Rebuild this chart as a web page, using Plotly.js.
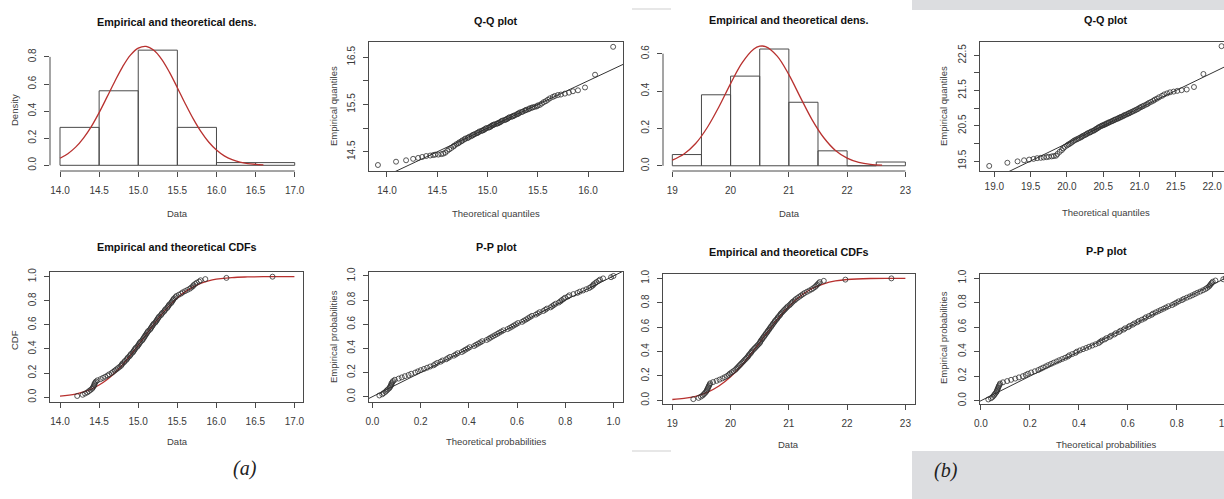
<!DOCTYPE html>
<html><head><meta charset="utf-8">
<script src="https://cdn.plot.ly/plotly-3.0.1.min.js"></script>
<style>html,body{margin:0;padding:0;overflow:hidden;background:#fff;width:1224px;height:499px}#chart{width:1250px;height:499px}</style>
</head><body><div id="chart"></div><script>
// ---------- data ----------
// (a) histogram
const breaksA = [14.0, 14.5, 15.0, 15.5, 16.0, 16.5, 17.0];
const densA = [0.28, 0.55, 0.85, 0.28, 0.02, 0.02];
// (a) theoretical density curve
const curveXA = [14.0,14.1,14.2,14.3,14.4,14.5,14.6,14.7,14.8,14.9,15.0,15.1,15.2,15.3,15.4,15.5,15.6,15.7,15.8,15.9,16.0,16.1,16.2,16.3,16.4,16.5,16.6];
const curveYA = [0.052,0.086,0.134,0.201,0.286,0.389,0.503,0.619,0.727,0.813,0.865,0.878,0.849,0.782,0.686,0.573,0.456,0.346,0.250,0.172,0.113,0.070,0.042,0.024,0.013,0.007,0.003];
// (a) theoretical CDF curve
const cdfXA = [14.0,14.2,14.4,14.5,14.6,14.7,14.8,14.9,15.0,15.1,15.2,15.3,15.4,15.5,15.6,15.7,15.8,15.9,16.0,16.2,16.4,16.6,17.0];
const cdfYA = [0.009,0.026,0.067,0.101,0.145,0.201,0.269,0.346,0.430,0.518,0.604,0.686,0.760,0.823,0.874,0.914,0.944,0.965,0.979,0.993,0.998,1.000,1.000];
// (a) sorted observations
const dataA = [14.22,14.29,14.32,14.35,14.37,14.39,14.41,14.42,14.43,14.44,
  14.44,14.45,14.46,14.48,14.52,14.55,14.58,14.61,14.63,14.66,
  14.68,14.70,14.72,14.74,14.76,14.78,14.79,14.80,14.82,14.83,
  14.85,14.86,14.87,14.89,14.90,14.91,14.93,14.94,14.95,14.96,
  14.97,14.99,15.00,15.01,15.02,15.03,15.05,15.06,15.07,15.08,
  15.09,15.10,15.11,15.12,15.13,15.15,15.16,15.17,15.18,15.19,
  15.20,15.22,15.23,15.24,15.25,15.26,15.27,15.29,15.30,15.31,
  15.33,15.34,15.35,15.37,15.38,15.39,15.40,15.42,15.43,15.44,
  15.45,15.46,15.48,15.49,15.52,15.55,15.57,15.60,15.63,15.66,
  15.68,15.70,15.71,15.73,15.75,15.78,15.80,15.86,16.13,16.72];
// (a) theoretical quantiles (Q-Q x)
const qqTheoA = [13.91,14.09,14.19,14.26,14.31,14.35,14.39,14.43,14.46,14.48,
  14.51,14.54,14.56,14.58,14.60,14.62,14.64,14.66,14.67,14.69,
  14.71,14.72,14.74,14.75,14.77,14.78,14.80,14.81,14.82,14.84,
  14.85,14.86,14.87,14.89,14.90,14.91,14.92,14.94,14.95,14.96,
  14.97,14.98,14.99,15.01,15.02,15.03,15.04,15.05,15.06,15.07,
  15.09,15.10,15.11,15.12,15.13,15.14,15.15,15.17,15.18,15.19,
  15.20,15.21,15.22,15.24,15.25,15.26,15.27,15.29,15.30,15.31,
  15.32,15.34,15.35,15.37,15.38,15.39,15.41,15.42,15.44,15.45,
  15.47,15.49,15.50,15.52,15.54,15.56,15.58,15.60,15.62,15.65,
  15.67,15.70,15.73,15.77,15.81,15.85,15.90,15.97,16.07,16.25];
// (a) theoretical probabilities (P-P x)
const ppTheoA = [0.029,0.041,0.047,0.054,0.059,0.064,0.070,0.073,0.076,0.079,
  0.079,0.083,0.086,0.093,0.109,0.122,0.135,0.150,0.161,0.178,
  0.189,0.201,0.214,0.227,0.240,0.254,0.261,0.269,0.283,0.291,
  0.306,0.314,0.322,0.338,0.346,0.354,0.371,0.379,0.387,0.396,
  0.404,0.422,0.430,0.439,0.448,0.456,0.474,0.483,0.491,0.500,
  0.509,0.518,0.526,0.535,0.544,0.561,0.570,0.579,0.587,0.596,
  0.604,0.621,0.629,0.638,0.646,0.654,0.662,0.678,0.686,0.694,
  0.709,0.717,0.724,0.739,0.746,0.753,0.760,0.773,0.780,0.786,
  0.793,0.799,0.811,0.817,0.834,0.850,0.860,0.874,0.887,0.899,
  0.907,0.914,0.917,0.924,0.930,0.938,0.944,0.957,0.990,1.000];
// empirical probabilities (ECDF / P-P y), both samples
const empProb = [0.01,0.02,0.03,0.04,0.05,0.06,0.07,0.08,0.09,0.10,
  0.11,0.12,0.13,0.14,0.15,0.16,0.17,0.18,0.19,0.20,
  0.21,0.22,0.23,0.24,0.25,0.26,0.27,0.28,0.29,0.30,
  0.31,0.32,0.33,0.34,0.35,0.36,0.37,0.38,0.39,0.40,
  0.41,0.42,0.43,0.44,0.45,0.46,0.47,0.48,0.49,0.50,
  0.51,0.52,0.53,0.54,0.55,0.56,0.57,0.58,0.59,0.60,
  0.61,0.62,0.63,0.64,0.65,0.66,0.67,0.68,0.69,0.70,
  0.71,0.72,0.73,0.74,0.75,0.76,0.77,0.78,0.79,0.80,
  0.81,0.82,0.83,0.84,0.85,0.86,0.87,0.88,0.89,0.90,
  0.91,0.92,0.93,0.94,0.95,0.96,0.97,0.98,0.99,1.00];

// (b) histogram
const breaksB = [19.0, 19.5, 20.0, 20.5, 21.0, 21.5, 22.0, 22.5, 23.0];
const densB = [0.06, 0.38, 0.48, 0.625, 0.34, 0.08, 0.0, 0.02];
const curveXB = [19.0,19.2,19.4,19.6,19.8,20.0,20.2,20.4,20.5,20.6,20.8,21.0,21.2,21.4,21.6,21.8,22.0,22.2,22.4,22.6];
const curveYB = [0.030,0.063,0.119,0.205,0.316,0.440,0.552,0.625,0.640,0.638,0.587,0.488,0.365,0.246,0.150,0.082,0.041,0.018,0.007,0.003];
const cdfXB = [19.0,19.2,19.4,19.6,19.8,20.0,20.2,20.4,20.6,20.8,21.0,21.2,21.4,21.6,21.8,22.0,22.4,22.8,23.0];
const cdfYB = [0.007,0.016,0.033,0.065,0.117,0.193,0.292,0.411,0.538,0.662,0.770,0.856,0.917,0.956,0.979,0.991,0.999,1.000,1.000];
const dataB = [19.36,19.45,19.49,19.52,19.54,19.56,19.58,19.59,19.60,19.61,
  19.62,19.63,19.64,19.65,19.70,19.76,19.81,19.86,19.90,19.94,
  19.97,19.99,20.02,20.05,20.08,20.10,20.12,20.14,20.16,20.18,
  20.20,20.22,20.24,20.26,20.28,20.30,20.31,20.33,20.35,20.36,
  20.38,20.40,20.42,20.44,20.46,20.48,20.50,20.51,20.52,20.54,
  20.55,20.57,20.58,20.60,20.61,20.63,20.64,20.66,20.67,20.69,
  20.70,20.72,20.73,20.75,20.76,20.78,20.80,20.81,20.83,20.85,
  20.86,20.88,20.90,20.92,20.94,20.96,20.98,21.01,21.03,21.05,
  21.07,21.10,21.12,21.15,21.18,21.21,21.24,21.27,21.31,21.35,
  21.39,21.42,21.45,21.47,21.49,21.51,21.53,21.60,21.97,22.76];
const qqTheoB = [18.93,19.18,19.32,19.41,19.48,19.54,19.59,19.64,19.68,19.72,
  19.75,19.79,19.82,19.85,19.87,19.90,19.93,19.95,19.97,20.00,
  20.02,20.04,20.06,20.08,20.10,20.12,20.14,20.16,20.18,20.20,
  20.21,20.23,20.25,20.27,20.28,20.30,20.32,20.33,20.35,20.37,
  20.38,20.40,20.41,20.43,20.44,20.46,20.48,20.49,20.51,20.52,
  20.54,20.55,20.57,20.58,20.60,20.62,20.63,20.65,20.66,20.68,
  20.70,20.71,20.73,20.74,20.76,20.78,20.79,20.81,20.83,20.85,
  20.86,20.88,20.90,20.92,20.94,20.96,20.98,21.00,21.02,21.04,
  21.06,21.09,21.11,21.13,21.16,21.19,21.21,21.24,21.27,21.31,
  21.34,21.38,21.42,21.47,21.52,21.58,21.65,21.75,21.88,22.13];
const ppTheoB = [0.030,0.041,0.047,0.052,0.055,0.059,0.063,0.065,0.067,0.069,
  0.071,0.073,0.076,0.078,0.090,0.107,0.123,0.140,0.155,0.171,
  0.183,0.192,0.205,0.220,0.234,0.244,0.254,0.265,0.275,0.286,
  0.297,0.309,0.320,0.332,0.344,0.355,0.361,0.373,0.386,0.392,
  0.404,0.417,0.430,0.442,0.455,0.468,0.481,0.487,0.494,0.506,
  0.513,0.526,0.532,0.545,0.551,0.564,0.570,0.583,0.589,0.602,
  0.608,0.620,0.627,0.639,0.645,0.657,0.668,0.674,0.686,0.697,
  0.703,0.714,0.725,0.735,0.746,0.756,0.766,0.781,0.790,0.799,
  0.808,0.821,0.829,0.841,0.853,0.864,0.874,0.884,0.896,0.907,
  0.917,0.924,0.931,0.935,0.939,0.943,0.947,0.958,0.990,1.000];

// identity reference lines (y = x)
const qqLineA = [13.0, 17.0];
const qqLineB = [18.0, 23.0];
const ppLine = [-0.2, 1.2];

// tick values
const ticksDataA = [14.0,14.5,15.0,15.5,16.0,16.5,17.0];
const ticksDensA = [0.0,0.2,0.4,0.6,0.8];
const ticksQQxA = [14.0,14.5,15.0,15.5,16.0];
const ticksQQyA = [14.5,15.0,15.5,16.0,16.5];
const labelsQQyA = ['14.5','','15.5','','16.5'];
const ticksProb = [0.0,0.2,0.4,0.6,0.8,1.0];
const ticksDataB = [19,20,21,22,23];
const ticksDensB = [0.0,0.2,0.4,0.6];
const ticksQQxB = [19.0,19.5,20.0,20.5,21.0,21.5,22.0];
const ticksQQyB = [19.5,20.0,20.5,21.0,21.5,22.0,22.5];
const labelsQQyB = ['19.5','','20.5','','21.5','','22.5'];

// ---------- layout helpers ----------
const W = 1250, H = 499;
const fx = v => v / W;
const fy = v => 1 - v / H;
const FONT = "'Liberation Sans',Arial,sans-serif";
const LINE = '#4a4a4a', TXT = '#3a3a3a', RED = '#b8312f', PT = '#2e2e2e';
const TICK = 10, LAB = 9.5, TIT = 10.8;
const f1 = v => v.toFixed(1);

function ax(l, r, range, vals, texts, extra) {
  return Object.assign({
    domain: [fx(l), fx(r)], range: range, tickmode: 'array', tickvals: vals, ticktext: texts,
    ticks: 'outside', ticklen: 5, tickwidth: 1, tickcolor: LINE,
    showline: true, mirror: true, linecolor: LINE, linewidth: 1,
    showgrid: false, zeroline: false, fixedrange: true,
    tickfont: {family: FONT, size: TICK, color: TXT}, ticklabelstandoff: 5
  }, extra || {});
}
function ay(top, bot, range, vals, texts, extra) {
  return Object.assign({
    domain: [fy(bot), fy(top)], range: range, tickmode: 'array', tickvals: vals, ticktext: texts,
    ticks: 'outside', ticklen: 5, tickwidth: 1, tickcolor: LINE, tickangle: -90,
    showline: true, mirror: true, linecolor: LINE, linewidth: 1,
    showgrid: false, zeroline: false, fixedrange: true,
    tickfont: {family: FONT, size: TICK, color: TXT}, ticklabelstandoff: 4
  }, extra || {});
}
const noBox = {showline: false, mirror: false};

function mids(b) { return b.slice(0, -1).map((v, i) => (v + b[i + 1]) / 2); }
function widths(b) { return b.slice(0, -1).map((v, i) => b[i + 1] - v); }
function bars(b, d, xa, ya) {
  return {type: 'bar', x: mids(b), y: d, width: widths(b), xaxis: xa, yaxis: ya,
    marker: {color: 'rgba(255,255,255,0)', line: {color: LINE, width: 1}}, hoverinfo: 'skip'};
}
function red(x, y, xa, ya) {
  return {type: 'scatter', mode: 'lines', x: x, y: y, xaxis: xa, yaxis: ya,
    line: {color: RED, width: 1.3, shape: 'spline'}, hoverinfo: 'skip'};
}
function diag(v, xa, ya) {
  return {type: 'scatter', mode: 'lines', x: v, y: v, xaxis: xa, yaxis: ya,
    line: {color: '#333', width: 1}, hoverinfo: 'skip'};
}
function pts(x, y, xa, ya) {
  return {type: 'scatter', mode: 'markers', x: x, y: y, xaxis: xa, yaxis: ya,
    marker: {symbol: 'circle-open', size: 5, color: PT, line: {width: 0.8, color: PT}}, hoverinfo: 'skip'};
}

const traces = [
  bars(breaksA, densA, 'x', 'y'), red(curveXA, curveYA, 'x', 'y'),
  diag(qqLineA, 'x2', 'y2'), pts(qqTheoA, dataA, 'x2', 'y2'),
  red(cdfXA, cdfYA, 'x3', 'y3'), pts(dataA, empProb, 'x3', 'y3'),
  diag(ppLine, 'x4', 'y4'), pts(ppTheoA, empProb, 'x4', 'y4'),
  bars(breaksB, densB, 'x5', 'y5'), red(curveXB, curveYB, 'x5', 'y5'),
  diag(qqLineB, 'x6', 'y6'), pts(qqTheoB, dataB, 'x6', 'y6'),
  red(cdfXB, cdfYB, 'x7', 'y7'), pts(dataB, empProb, 'x7', 'y7'),
  diag(ppLine, 'x8', 'y8'), pts(ppTheoB, empProb, 'x8', 'y8')
];

function ann(text, x, y, size, extra) {
  return Object.assign({text: text, x: fx(x), y: fy(y), xref: 'paper', yref: 'paper',
    xanchor: 'center', yanchor: 'middle', showarrow: false,
    font: {family: FONT, size: size, color: '#404040'}}, extra || {});
}
function title(text, x, y) { return ann('<b>' + text + '</b>', x, y, TIT, {font: {family: FONT, size: TIT, color: '#111'}}); }
function xlab(text, x, y) { return ann(text, x, y, LAB); }
function ylab(text, x, y) { return ann(text, x, y, LAB, {textangle: -90}); }

const annotations = [
  title('Empirical and theoretical dens.', 177, 22), xlab('Data', 177, 213), ylab('Density', 14, 110),
  title('Q-Q plot', 496, 21), xlab('Theoretical quantiles', 496, 213), ylab('Empirical quantiles', 333, 106),
  title('Empirical and theoretical CDFs', 177, 247), xlab('Data', 177, 441), ylab('CDF', 14, 340),
  title('P-P plot', 496, 247), xlab('Theoretical probabilities', 496, 441), ylab('Empirical probabilities', 333, 337),
  title('Empirical and theoretical dens.', 789, 20), xlab('Data', 789, 213),
  title('Q-Q plot', 1106, 20), xlab('Theoretical quantiles', 1106, 212), ylab('Empirical quantiles', 943, 106),
  title('Empirical and theoretical CDFs', 789, 252), xlab('Data', 788, 444),
  title('P-P plot', 1106, 251), xlab('Theoretical probabilities', 1106, 444), ylab('Empirical probabilities', 943, 338),
  ann('<i>(a)</i>', 245, 468, 20, {font: {family: "'Liberation Serif','DejaVu Serif',serif", size: 20, color: '#222'}}),
  ann('<i>(b)</i>', 946, 470, 20, {font: {family: "'Liberation Serif','DejaVu Serif',serif", size: 20, color: '#222'}})
];

const shapes = [
  // grey page background behind panel (b)
  {type: 'rect', xref: 'paper', yref: 'paper', x0: fx(912), x1: 1, y0: fy(10), y1: 1, fillcolor: '#dcdde0', line: {width: 0}, layer: 'below'},
  {type: 'rect', xref: 'paper', yref: 'paper', x0: fx(912), x1: 1, y0: 0, y1: fy(451), fillcolor: '#dcdde0', line: {width: 0}, layer: 'below'},
  {type: 'line', xref: 'paper', yref: 'paper', x0: fx(632), x1: fx(671), y0: fy(9), y1: fy(9), line: {color: '#cfcfcf', width: 1}},
  {type: 'line', xref: 'paper', yref: 'paper', x0: fx(632), x1: fx(671), y0: fy(451), y1: fy(451), line: {color: '#cfcfcf', width: 1}},
  // R-style axis lines for histograms (first to last tick)
  {type: 'line', xref: 'x', yref: 'y domain', x0: ticksDataA[0], x1: ticksDataA[ticksDataA.length - 1], y0: 0, y1: 0, line: {color: LINE, width: 1}},
  {type: 'line', xref: 'x domain', yref: 'y', x0: 0, x1: 0, y0: ticksDensA[0], y1: ticksDensA[ticksDensA.length - 1], line: {color: LINE, width: 1}},
  {type: 'line', xref: 'x5', yref: 'y5 domain', x0: ticksDataB[0], x1: ticksDataB[ticksDataB.length - 1], y0: 0, y1: 0, line: {color: LINE, width: 1}},
  {type: 'line', xref: 'x5 domain', yref: 'y5', x0: 0, x1: 0, y0: ticksDensB[0], y1: ticksDensB[ticksDensB.length - 1], line: {color: LINE, width: 1}}
];

const layout = {
  width: W, height: H, margin: {l: 0, r: 0, t: 0, b: 0}, showlegend: false,
  paper_bgcolor: '#fff', plot_bgcolor: 'rgba(0,0,0,0)', barmode: 'overlay',
  xaxis: ax(50, 304, [13.872, 17.119], ticksDataA, ticksDataA.map(f1), Object.assign({anchor: 'y'}, noBox)),
  yaxis: ay(45, 171, [-0.042, 0.888], ticksDensA, ticksDensA.map(f1), Object.assign({anchor: 'x'}, noBox)),
  xaxis2: ax(369, 623, [13.821, 16.348], ticksQQxA, ticksQQxA.map(f1), {anchor: 'y2'}),
  yaxis2: ay(42, 171, [14.093, 16.822], ticksQQyA, labelsQQyA, {anchor: 'x2'}),
  xaxis3: ax(50, 303, [13.872, 17.11], ticksDataA, ticksDataA.map(f1), {anchor: 'y3'}),
  yaxis3: ay(272, 402, [-0.04, 1.039], ticksProb, ticksProb.map(f1), {anchor: 'x3'}),
  xaxis4: ax(369, 623, [-0.014, 1.0395], ticksProb, ticksProb.map(f1), {anchor: 'y4'}),
  yaxis4: ay(272, 402, [-0.044, 1.033], ticksProb, ticksProb.map(f1), {anchor: 'x4'}),
  xaxis5: ax(663, 915, [18.84, 23.165], ticksDataB, ticksDataB.map(String), Object.assign({anchor: 'y5'}, noBox)),
  yaxis5: ay(41, 171, [-0.028, 0.668], ticksDensB, ticksDensB.map(f1), Object.assign({anchor: 'x5'}, noBox)),
  xaxis6: ax(980, 1231, [18.803, 22.26], ticksQQxB, ticksQQxB.map(f1), {anchor: 'y6', ticklabelstandoff: 1}),
  yaxis6: ay(42, 171, [19.216, 22.878], ticksQQyB, labelsQQyB, {anchor: 'x6'}),
  xaxis7: ax(663, 915, [18.84, 23.165], ticksDataB, ticksDataB.map(String), {anchor: 'y7'}),
  yaxis7: ay(274, 404, [-0.03, 1.036], ticksProb, ticksProb.map(f1), {anchor: 'x7'}),
  xaxis8: ax(980, 1235, [-0.004, 1.038], ticksProb, ticksProb.map(f1), {anchor: 'y8'}),
  yaxis8: ay(274, 404, [-0.027, 1.033], ticksProb, ticksProb.map(f1), {anchor: 'x8'}),
  annotations: annotations, shapes: shapes
};

Plotly.newPlot('chart', traces, layout, {displayModeBar: false, staticPlot: true});
</script></body></html>
